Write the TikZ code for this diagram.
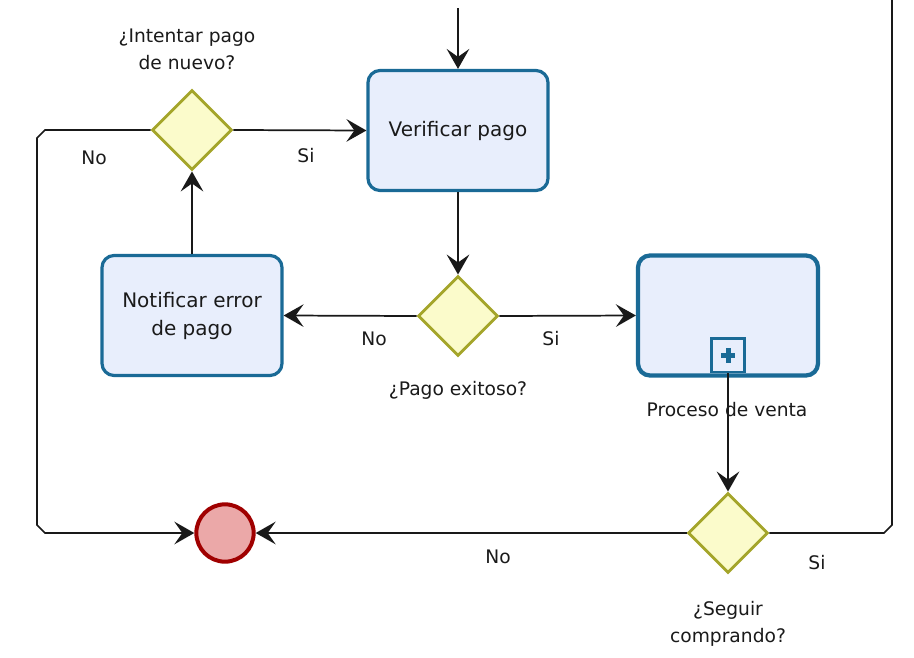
\documentclass[tikz,border=0pt]{standalone}
\usepackage{fontspec}
\setmainfont{DejaVu Sans}
\usetikzlibrary{arrows.meta,shapes.geometric,calc}
\definecolor{taskfill}{HTML}{E8EEFC}
\definecolor{taskline}{HTML}{1A6A96}
\definecolor{gwfill}{HTML}{FBFBCB}
\definecolor{gwline}{HTML}{A4A52A}
\definecolor{endfill}{HTML}{EBA8A8}
\definecolor{endline}{HTML}{A00000}
\definecolor{txt}{HTML}{1A1A1A}
\tikzset{
  task/.style={draw=taskline, line width=2.4pt, fill=taskfill, rounded corners=9pt,
    minimum width=135pt, minimum height=90pt, align=center, inner sep=0pt,
    font=\fontsize{15pt}{21pt}\selectfont, text=txt},
  gw/.style={draw=gwline, line width=2.2pt, fill=gwfill, diamond, aspect=1,
    minimum width=60pt, minimum height=60pt, inner sep=0pt},
  lbl/.style={font=\fontsize{14pt}{20pt}\selectfont, text=txt, align=center, inner sep=0pt},
  flow/.style={line width=1.3pt, draw=black!90, -{Stealth[length=15pt,width=17pt,inset=6pt]}},
  plain/.style={line width=1.3pt, draw=black!90},
}
\begin{document}
\begin{tikzpicture}[x=0.75pt,y=-0.75pt]
\useasboundingbox (0,0) rectangle (914,657);
% nodes
\node[task] (ver) at (458,130.5) {Verificar pago};
\node[task] (notif) at (192,315.5) {Notificar error\\de pago};
\node[task, line width=3.2pt] (proc) at (728,315.5) {};
\node[draw=taskline, line width=1.8pt, fill=taskfill, minimum width=25pt, minimum height=25pt, inner sep=0pt, anchor=south] (mk) at (728,373) {};
\fill[taskline] ($(mk.center)+(-7,-2)$) rectangle ($(mk.center)+(7,3)$);
\fill[taskline] ($(mk.center)+(-2.5,-7)$) rectangle ($(mk.center)+(2.5,8)$);
\node[gw] (gw1) at (192,130) {};
\node[gw] (gw2) at (458,316) {};
\node[gw] (gw3) at (728,533) {};
\node[circle, draw=endline, line width=3pt, fill=endfill, minimum size=43pt, inner sep=0pt] (end) at (225,533) {};
% coordinates
\coordinate (top) at (458,8);
\coordinate (l1) at (37,130);
\coordinate (l2) at (37,533);
\coordinate (r1) at (892,533);
\coordinate (r2) at (892,0);
% labels
\node[lbl] (t1) at (187,49) {¿Intentar pago\\de nuevo?};
\node[lbl] (t2) at (458,390) {¿Pago exitoso?};
\node[lbl] (t3) at (727,410) {Proceso de venta};
\node[lbl] (t4) at (728,624) {¿Seguir\\comprando?};
\node[lbl] (n1) at (94,158) {No};
\node[lbl] (s1) at (306,156) {Si};
\node[lbl] (n2) at (374,339) {No};
\node[lbl] (s2) at (551,339) {Si};
\node[lbl] (n3) at (498,557) {No};
\node[lbl] (s3) at (817,563) {Si};
% connectors
\draw[flow] (top) -- (ver.north);
\draw[flow] (gw1.east) -- (ver.west);
\draw[flow] (ver.south) -- (gw2.north);
\draw[flow] (gw2.west) -- (notif.east);
\draw[flow] (gw2.east) -- (proc.west);
\draw[flow] (notif.north) -- (gw1.south);
\draw[flow] (mk.south) -- (gw3.north);
\draw[flow] (gw3.west) -- (end.east);
\draw[flow] (gw1.west) -- ($(l1)+(8,0)$) -- ($(l1)+(0,8)$) -- ($(l2)+(0,-8)$) -- ($(l2)+(8,0)$) -- (end.west);
\draw[plain] (gw3.east) -- ($(r1)+(-8,0)$) -- ($(r1)+(0,-8)$) -- (r2);
\end{tikzpicture}
\end{document}
